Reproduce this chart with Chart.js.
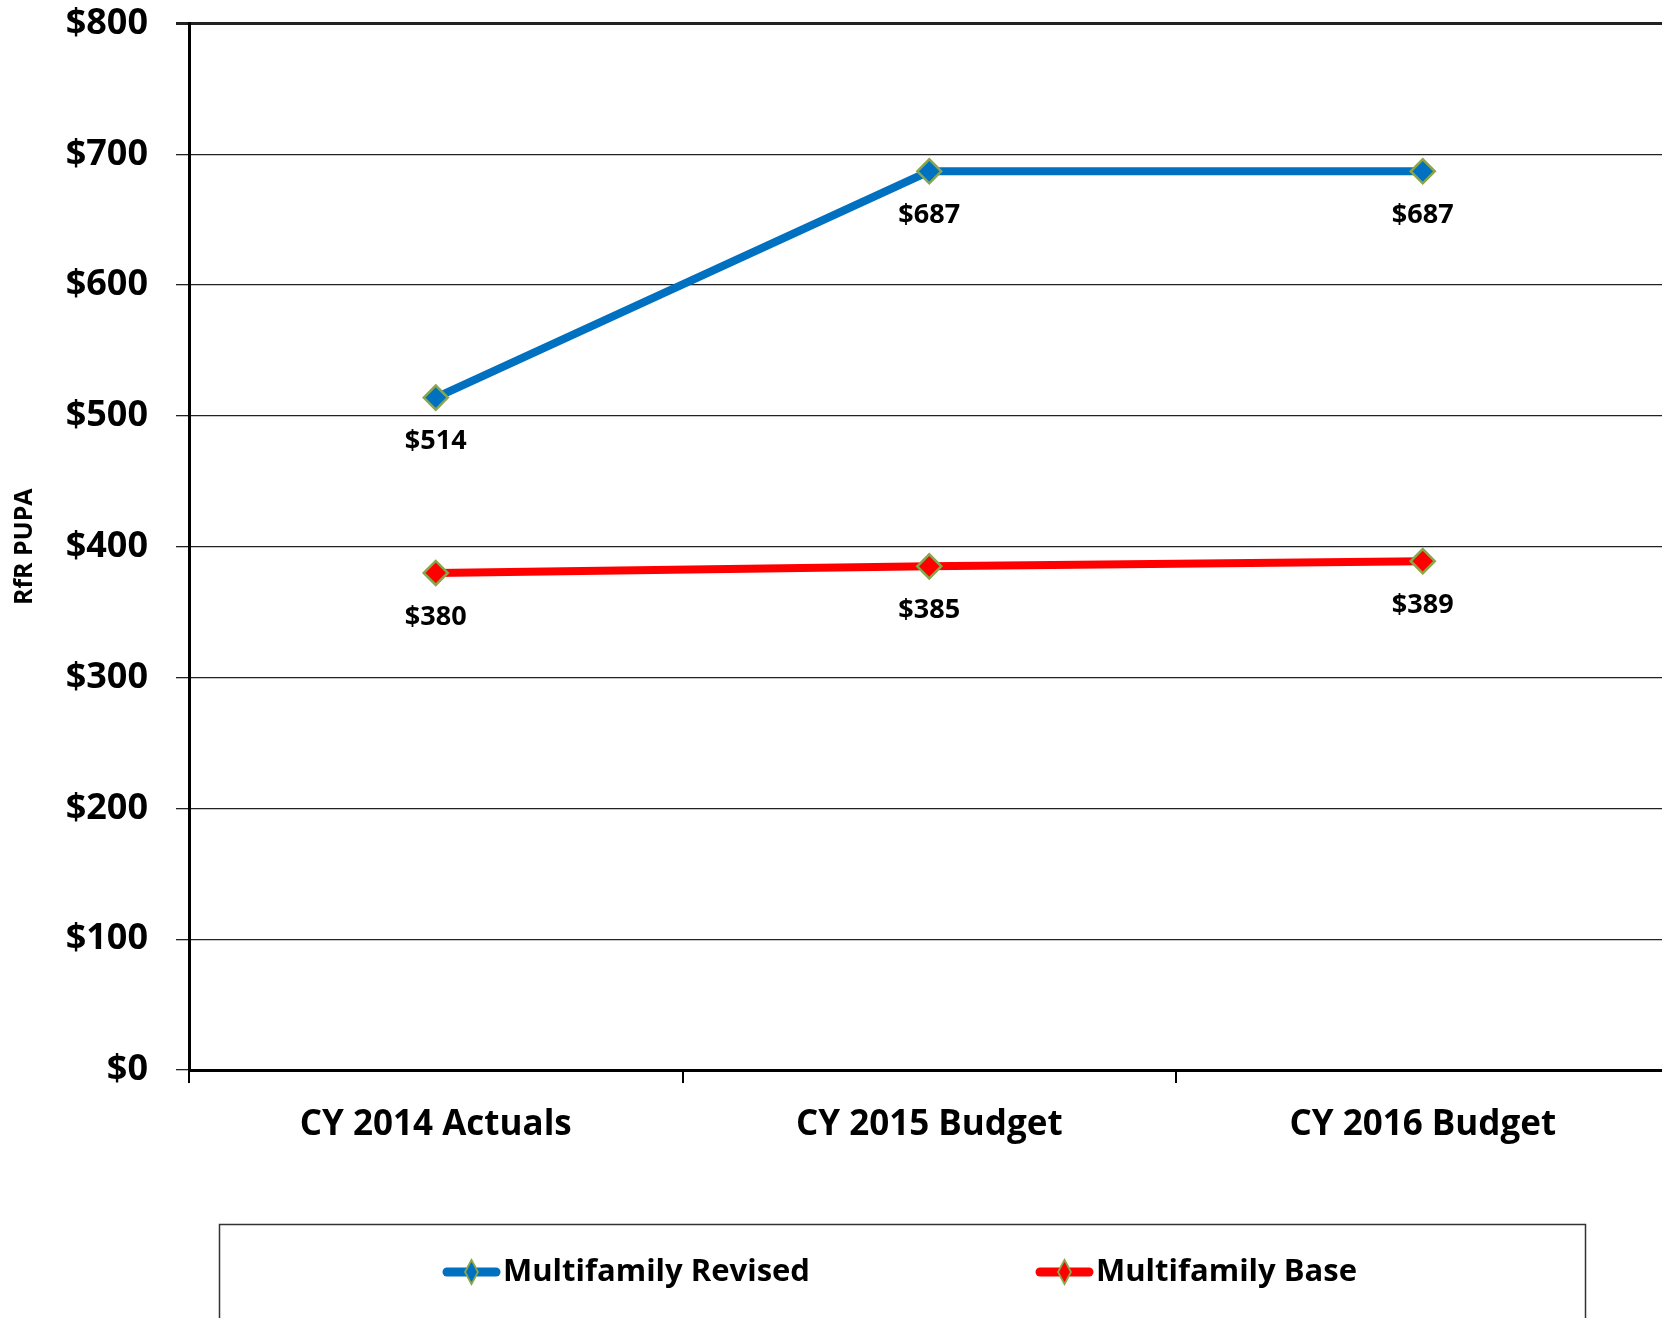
<!DOCTYPE html>
<html>
<head>
<meta charset="utf-8">
<script src="https://cdn.jsdelivr.net/npm/chart.js@4"></script>
<style>
  html, body { margin: 0; padding: 0; background: #fff; overflow: hidden; }
  #wrap { width: 1662px; height: 1318px; overflow: hidden; }
</style>
</head>
<body>
<div id="wrap"><canvas id="rfrChart" width="1684" height="1318"></canvas></div>
<script>
const categories = ['CY 2014 Actuals', 'CY 2015 Budget', 'CY 2016 Budget'];
const seriesNames = ['Multifamily Revised', 'Multifamily Base'];
const revisedValues = [514, 687, 687];
const baseValues = [380, 385, 389];
const yTicks = [0, 100, 200, 300, 400, 500, 600, 700, 800];

const FONT = "'Open Sans', 'DejaVu Sans', sans-serif";
const MARKER_EDGE = '#8AA54A';

// value labels under every point
const valueLabels = {
    id: 'valueLabels',
    afterDatasetsDraw(chart) {
        const ctx = chart.ctx;
        ctx.save();
        ctx.font = 'bold 27px ' + FONT;
        ctx.fillStyle = '#000';
        ctx.textAlign = 'center';
        ctx.textBaseline = 'middle';
        chart.data.datasets.forEach((ds, i) => {
            chart.getDatasetMeta(i).data.forEach((pt, j) => {
                ctx.fillText('$' + ds.data[j], pt.x, pt.y + 44);
            });
        });
        ctx.restore();
    }
};

// boxed legend along the bottom
const boxLegend = {
    id: 'boxLegend',
    afterDraw(chart) {
        const ctx = chart.ctx;
        const itemX = [443, 1036];
        const y = 1272;
        ctx.save();
        ctx.strokeStyle = '#333';
        ctx.lineWidth = 1.5;
        ctx.strokeRect(219.5, 1224.5, 1366, 200);
        chart.data.datasets.forEach((ds, i) => {
            const x = itemX[i];
            ctx.strokeStyle = ds.borderColor;
            ctx.lineWidth = 9;
            ctx.lineCap = 'round';
            ctx.beginPath();
            ctx.moveTo(x + 4, y);
            ctx.lineTo(x + 53, y);
            ctx.stroke();
            const cx = x + 28.5;
            ctx.beginPath();
            ctx.moveTo(cx, y - 12);
            ctx.lineTo(cx + 6.5, y);
            ctx.lineTo(cx, y + 12);
            ctx.lineTo(cx - 6.5, y);
            ctx.closePath();
            ctx.fillStyle = ds.backgroundColor;
            ctx.fill();
            ctx.strokeStyle = MARKER_EDGE;
            ctx.lineWidth = 1.8;
            ctx.stroke();
            ctx.fillStyle = '#000';
            ctx.font = 'bold 31px ' + FONT;
            ctx.textAlign = 'left';
            ctx.textBaseline = 'middle';
            ctx.fillText(ds.label, x + 60, y);
        });
        ctx.restore();
    }
};

const ctx = document.getElementById('rfrChart').getContext('2d');
new Chart(ctx, {
    type: 'line',
    data: {
        labels: categories,
        datasets: [
            {
                label: seriesNames[0], data: revisedValues,
                borderColor: '#0070C0', backgroundColor: '#0070C0',
                borderWidth: 8, pointStyle: 'rectRot', pointRadius: 12,
                pointBorderColor: MARKER_EDGE, pointBorderWidth: 2.5,
                tension: 0, fill: false
            },
            {
                label: seriesNames[1], data: baseValues,
                borderColor: '#FF0000', backgroundColor: '#FF0000',
                borderWidth: 8, pointStyle: 'rectRot', pointRadius: 12,
                pointBorderColor: MARKER_EDGE, pointBorderWidth: 2.5,
                tension: 0, fill: false
            }
        ]
    },
    options: {
        responsive: false,
        animation: false,
        devicePixelRatio: 1,
        layout: { padding: { top: 0, right: 0, bottom: 151, left: 0 } },
        plugins: {
            legend: { display: false },
            tooltip: { enabled: false }
        },
        scales: {
            x: {
                offset: true,
                grid: { display: true, drawOnChartArea: false, drawTicks: true, tickLength: 13, color: '#000', lineWidth: 2, offset: true },
                border: { display: true, color: '#000', width: 3 },
                ticks: { color: '#000', font: { family: FONT, size: 35, weight: 'bold' }, padding: 21, maxRotation: 0 }
            },
            y: {
                min: 0,
                max: 800,
                afterFit(scale) {
                    scale.width = 189;
                    scale.paddingTop = 23.5;
                    scale.paddingBottom = 0;
                },
                afterBuildTicks(scale) { scale.ticks = yTicks.map(v => ({ value: v })); },
                grid: {
                    color: '#222',
                    lineWidth: c => (c.tick && c.tick.value === 800 ? 3 : 1.3),
                    drawTicks: true, tickLength: 13
                },
                border: { display: true, color: '#000', width: 3 },
                ticks: {
                    color: '#000', padding: 28,
                    font: { family: FONT, size: 36, weight: 'bold' },
                    callback: v => '$' + v
                },
                title: {
                    display: true, text: 'RfR PUPA', color: '#000',
                    font: { family: FONT, size: 25, weight: 'bold' },
                    padding: { top: 10, bottom: 0 }
                }
            }
        }
    },
    plugins: [valueLabels, boxLegend]
});
</script>
</body>
</html>
